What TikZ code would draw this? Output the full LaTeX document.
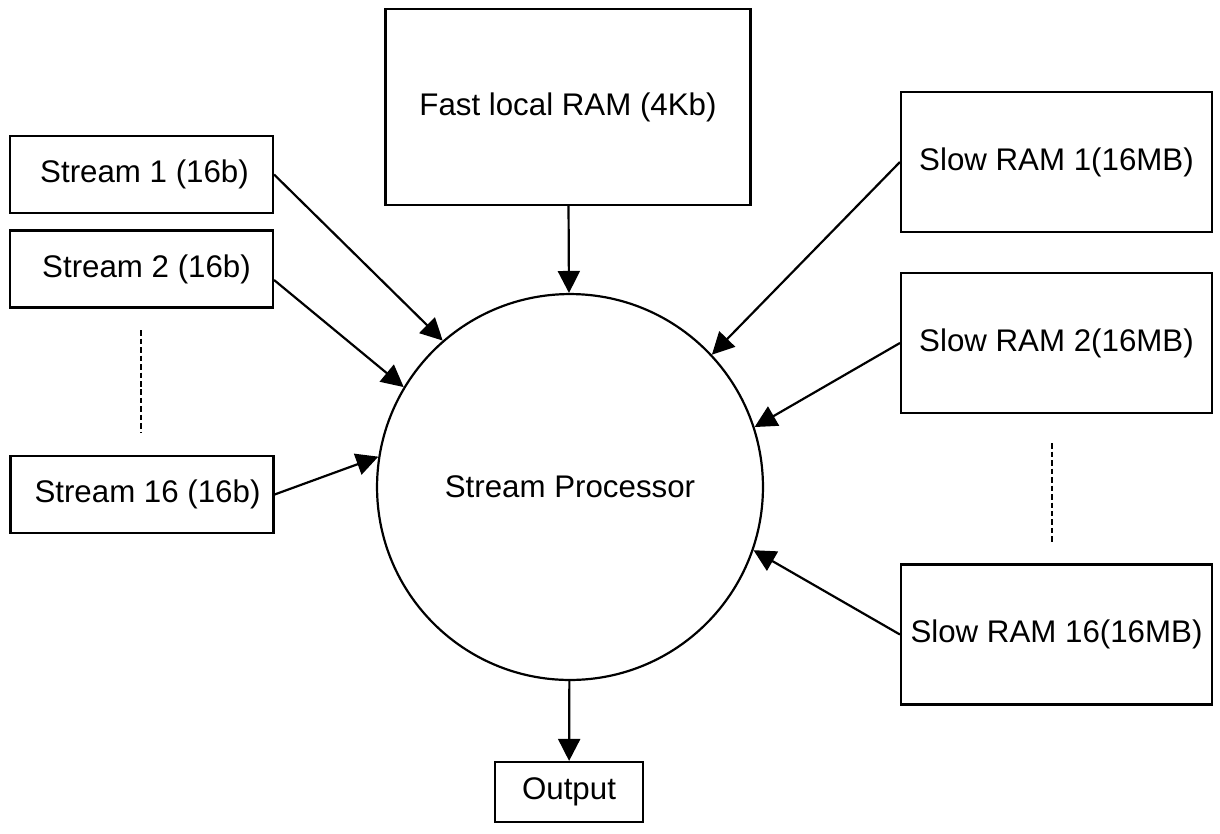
\documentclass[tikz,border=0pt]{standalone}
\usepackage{fontspec}
\setmainfont{Liberation Sans}
\usetikzlibrary{arrows.meta}

\begin{document}
\begin{tikzpicture}[x=0.02cm, y=-0.02cm, ->, >={Triangle[length=0.44cm, width=0.44cm]},
        line width=1.25pt, font=\fontsize{17.8}{21}\selectfont,
        box/.style={draw, rectangle, inner sep=0pt, align=center},
        membox/.style={box, minimum width=6.22cm, minimum height=2.8cm},
        strbox/.style={box, minimum width=5.26cm, minimum height=1.54cm}]

        \useasboundingbox (0,0) rectangle (1220,833);

        % --- Processor and local memory ---
        \node[circle, draw, minimum size=7.72cm, inner sep=0pt] (SP) at (570,487) {Stream Processor};
        \node[box, minimum width=7.3cm, minimum height=3.92cm] (FR) at (568,107) {Fast local RAM (4Kb)};
        \node[box, minimum width=2.96cm, minimum height=1.2cm] (O) at (569,792) {Output};

        % --- Input streams ---
        \node[strbox] (S1)  at (141.5,174.5) {\hspace{0.12cm}Stream 1 (16b)};
        \node[strbox] (S2)  at (141.5,269)   {\hspace{0.2cm}Stream 2 (16b)};
        \node[strbox] (S16) at (142,494.5)   {\hspace{0.22cm}Stream 16 (16b)};

        % --- Slow memories ---
        \node[membox] (R1)  at (1056.5,162)   {Slow RAM 1(16MB)};
        \node[membox] (R2)  at (1056.5,343)   {Slow RAM 2(16MB)};
        \node[membox] (R16) at (1056.5,634.5) {Slow RAM 16(16MB)};

        % --- Elided entries ---
        \draw[-, dash pattern=on 0.11cm off 0.06cm] (141,330) -- (141,432);
        \draw[-, dash pattern=on 0.11cm off 0.06cm] (1052,443) -- (1052,544);

        % --- Data paths ---
        \draw (FR) -- (SP);
        \draw (S1.east) -- (SP.131);
        \draw ([yshift=-0.22cm]S2.east) -- (SP.149);
        \draw (S16.east) -- (SP.171);
        \draw (R1.west) -- (SP.43);
        \draw (R2.west) -- (SP.18);
        \draw (R16.west) -- (SP.-19);
        \draw (SP) -- (O);

\end{tikzpicture}
\end{document}
